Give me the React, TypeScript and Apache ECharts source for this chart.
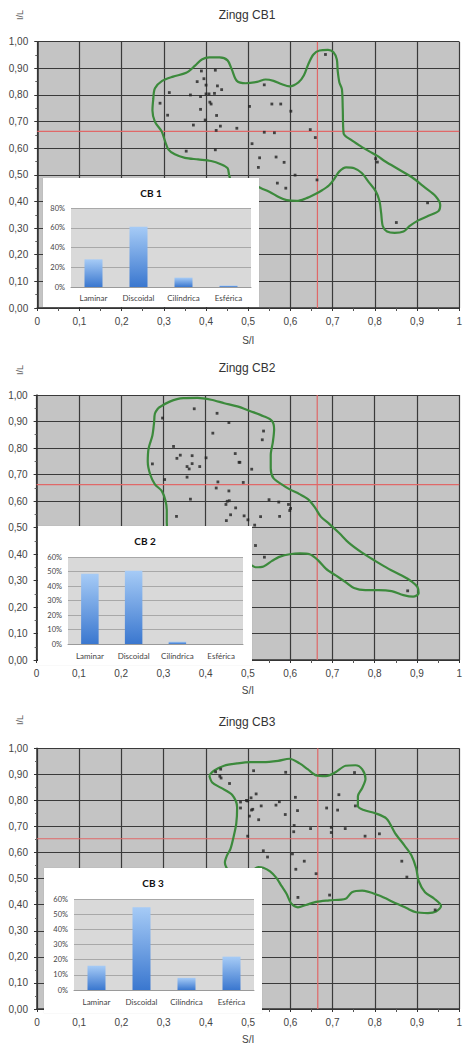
import React, { useEffect, useRef } from "react";
import * as echarts from "echarts";

// ---------- data ----------
const shapeCategories = ["Laminar", "Discoidal", "Cilíndrica", "Esférica"];
const cb1Shares = [0.28, 0.61, 0.095, 0.015];
const cb2Shares = [0.485, 0.505, 0.016, 0];
const cb3Shares = [0.16, 0.545, 0.08, 0.22];

const chartTitles = ["Zingg CB1", "Zingg CB2", "Zingg CB3"];
const insetTitles = ["CB 1", "CB 2", "CB 3"];

// reference lines [x (S/I), y (I/L)]
const cb1Ref = [0.664, 0.663];
const cb2Ref = [0.664, 0.662];
const cb3Ref = [0.665, 0.653];

const cb1Points = [
  [0.291, 0.769], [0.313, 0.809], [0.309, 0.724], [0.363, 0.8], [0.379, 0.85], [0.389, 0.89], [0.395, 0.861],
  [0.4, 0.837], [0.387, 0.794], [0.4, 0.804], [0.407, 0.804], [0.409, 0.773], [0.412, 0.766], [0.387, 0.746],
  [0.398, 0.706], [0.37, 0.687], [0.422, 0.893], [0.427, 0.834], [0.437, 0.82], [0.42, 0.806], [0.425, 0.723],
  [0.434, 0.683], [0.424, 0.667], [0.422, 0.594], [0.353, 0.589], [0.473, 0.675], [0.503, 0.757], [0.509, 0.617],
  [0.538, 0.838], [0.556, 0.766], [0.577, 0.766], [0.601, 0.739], [0.538, 0.66], [0.562, 0.658], [0.527, 0.564],
  [0.524, 0.528], [0.566, 0.567], [0.585, 0.547], [0.611, 0.499], [0.569, 0.469], [0.589, 0.45], [0.647, 0.67],
  [0.659, 0.64], [0.663, 0.481], [0.683, 0.952], [0.802, 0.561], [0.806, 0.548], [0.851, 0.321], [0.925, 0.395],
];

const cb2Points = [
  [0.373, 0.948], [0.427, 0.931], [0.455, 0.896], [0.298, 0.913], [0.417, 0.856], [0.537, 0.864], [0.534, 0.831],
  [0.324, 0.806], [0.34, 0.773], [0.332, 0.761], [0.368, 0.771], [0.368, 0.741], [0.356, 0.73], [0.361, 0.721],
  [0.386, 0.73], [0.401, 0.763], [0.274, 0.74], [0.356, 0.69], [0.303, 0.681], [0.47, 0.779], [0.479, 0.746],
  [0.481, 0.746], [0.509, 0.72], [0.489, 0.67], [0.429, 0.672], [0.425, 0.649], [0.455, 0.638], [0.456, 0.601],
  [0.451, 0.599], [0.448, 0.587], [0.471, 0.574], [0.364, 0.607], [0.331, 0.542], [0.459, 0.548], [0.449, 0.526],
  [0.491, 0.544], [0.5, 0.529], [0.516, 0.509], [0.53, 0.541], [0.55, 0.605], [0.573, 0.596], [0.575, 0.542],
  [0.596, 0.587], [0.601, 0.572], [0.599, 0.564], [0.518, 0.432], [0.539, 0.388], [0.878, 0.261],
];

const cb3Points = [
  [0.423, 0.91], [0.435, 0.92], [0.433, 0.893], [0.436, 0.886], [0.456, 0.865], [0.513, 0.914], [0.589, 0.908],
  [0.752, 0.907], [0.482, 0.794], [0.496, 0.8], [0.499, 0.798], [0.507, 0.81], [0.519, 0.825], [0.482, 0.771],
  [0.508, 0.763], [0.511, 0.766], [0.531, 0.779], [0.503, 0.74], [0.525, 0.726], [0.566, 0.782], [0.574, 0.795],
  [0.588, 0.746], [0.612, 0.812], [0.617, 0.761], [0.609, 0.704], [0.608, 0.68], [0.648, 0.692], [0.686, 0.771],
  [0.715, 0.822], [0.712, 0.763], [0.697, 0.697], [0.697, 0.677], [0.73, 0.692], [0.754, 0.779], [0.777, 0.663],
  [0.811, 0.672], [0.499, 0.663], [0.536, 0.607], [0.546, 0.583], [0.605, 0.595], [0.633, 0.567], [0.613, 0.536],
  [0.661, 0.519], [0.618, 0.428], [0.693, 0.437], [0.864, 0.567], [0.876, 0.506], [0.943, 0.38],
];

const cb1Contour = [
  [0.275, 0.785], [0.279, 0.825], [0.296, 0.853], [0.322, 0.869], [0.353, 0.883], [0.374, 0.91], [0.39, 0.933],
  [0.408, 0.941], [0.432, 0.941], [0.451, 0.93], [0.461, 0.896], [0.473, 0.853], [0.494, 0.844], [0.521, 0.849],
  [0.541, 0.858], [0.56, 0.853], [0.58, 0.84], [0.598, 0.832], [0.619, 0.847], [0.632, 0.874], [0.642, 0.914],
  [0.654, 0.951], [0.669, 0.967], [0.689, 0.969], [0.702, 0.96], [0.71, 0.933], [0.712, 0.89], [0.716, 0.847],
  [0.722, 0.822], [0.724, 0.748], [0.726, 0.656], [0.743, 0.632], [0.767, 0.607], [0.786, 0.589], [0.806, 0.571],
  [0.825, 0.55], [0.856, 0.521], [0.888, 0.491], [0.919, 0.452], [0.944, 0.42], [0.955, 0.387], [0.951, 0.364],
  [0.927, 0.346], [0.903, 0.329], [0.882, 0.307], [0.868, 0.287], [0.847, 0.282], [0.829, 0.287], [0.819, 0.307],
  [0.815, 0.356], [0.811, 0.402], [0.802, 0.439], [0.786, 0.472], [0.769, 0.507], [0.751, 0.525], [0.732, 0.528],
  [0.716, 0.513], [0.704, 0.485], [0.691, 0.46], [0.675, 0.442], [0.658, 0.427], [0.636, 0.411], [0.615, 0.402],
  [0.591, 0.405], [0.572, 0.417], [0.551, 0.436], [0.533, 0.448], [0.513, 0.46], [0.49, 0.454], [0.463, 0.466],
  [0.455, 0.497], [0.451, 0.525], [0.435, 0.54], [0.412, 0.552], [0.381, 0.558], [0.35, 0.564], [0.326, 0.577],
  [0.311, 0.595], [0.303, 0.626], [0.295, 0.663], [0.279, 0.699], [0.273, 0.742], [0.275, 0.785],
];

const cb2Contour = [
  [0.288, 0.951], [0.315, 0.975], [0.347, 0.988], [0.381, 0.989], [0.413, 0.982], [0.444, 0.969], [0.475, 0.957],
  [0.506, 0.939], [0.537, 0.92], [0.557, 0.902], [0.562, 0.871], [0.559, 0.822], [0.554, 0.773], [0.554, 0.724],
  [0.56, 0.687], [0.58, 0.663], [0.599, 0.644], [0.622, 0.626], [0.642, 0.607], [0.658, 0.577], [0.673, 0.54],
  [0.693, 0.513], [0.716, 0.479], [0.739, 0.442], [0.77, 0.405], [0.801, 0.374], [0.833, 0.344], [0.864, 0.319],
  [0.887, 0.297], [0.901, 0.276], [0.904, 0.252], [0.891, 0.239], [0.868, 0.245], [0.84, 0.26], [0.809, 0.264],
  [0.778, 0.264], [0.751, 0.272], [0.731, 0.294], [0.708, 0.319], [0.685, 0.344], [0.665, 0.378], [0.646, 0.399],
  [0.623, 0.402], [0.599, 0.399], [0.576, 0.39], [0.557, 0.374], [0.537, 0.353], [0.518, 0.35], [0.502, 0.362],
  [0.459, 0.344], [0.381, 0.368], [0.32, 0.442], [0.308, 0.519], [0.308, 0.564], [0.305, 0.601], [0.296, 0.638],
  [0.28, 0.663], [0.269, 0.699], [0.263, 0.748], [0.265, 0.798], [0.274, 0.847], [0.278, 0.896], [0.28, 0.93],
  [0.288, 0.951],
];

const cb3Contour = [
  [0.408, 0.896], [0.419, 0.914], [0.443, 0.933], [0.474, 0.942], [0.505, 0.947], [0.536, 0.947], [0.571, 0.952],
  [0.598, 0.96], [0.622, 0.942], [0.641, 0.92], [0.661, 0.896], [0.684, 0.893], [0.707, 0.908], [0.731, 0.933],
  [0.754, 0.935], [0.77, 0.92], [0.778, 0.883], [0.77, 0.847], [0.76, 0.816], [0.76, 0.779], [0.774, 0.763],
  [0.801, 0.751], [0.828, 0.73], [0.848, 0.675], [0.871, 0.626], [0.887, 0.589], [0.898, 0.54], [0.904, 0.491],
  [0.919, 0.448], [0.941, 0.423], [0.957, 0.395], [0.945, 0.374], [0.926, 0.368], [0.898, 0.371], [0.875, 0.387],
  [0.848, 0.407], [0.809, 0.436], [0.77, 0.454], [0.746, 0.448], [0.731, 0.423], [0.692, 0.417], [0.661, 0.411],
  [0.637, 0.399], [0.618, 0.39], [0.602, 0.405], [0.591, 0.442], [0.579, 0.472], [0.567, 0.503], [0.552, 0.528],
  [0.536, 0.542], [0.524, 0.544], [0.505, 0.528], [0.458, 0.528], [0.445, 0.561], [0.45, 0.589], [0.458, 0.613],
  [0.466, 0.663], [0.472, 0.712], [0.474, 0.773], [0.462, 0.822], [0.435, 0.849], [0.415, 0.869], [0.408, 0.896],
];

// ---------- layout ----------
const MAIN = [
  { top: 0, height: 350, gLeft: 37.25, gTop: 41.7, gBottom: 36.7, nameGap: 27, titleY: 15, ilY: 15 },
  { top: 350, height: 350, gLeft: 36.6, gTop: 45, gBottom: 33.3, nameGap: 25, titleY: 18, ilY: 20 },
  { top: 700, height: 349, gLeft: 37, gTop: 48.3, gBottom: 29, nameGap: 25, titleY: 22, ilY: 20 },
];
const INSET = [
  { left: 42.7, top: 178.3, width: 216, height: 129, gl: 28, gt: 30, gr: 8, gb: 20, lm: 7, max: 0.8, step: 0.2 },
  { left: 38, top: 525.7, width: 214, height: 139, gl: 30, gt: 31, gr: 9, gb: 21, lm: 8, max: 0.6, step: 0.1 },
  { left: 44, top: 867.7, width: 218, height: 145, gl: 30, gt: 31, gr: 8, gb: 23, lm: 8, max: 0.6, step: 0.1 },
];

const MAIN_FONT = "'Liberation Sans', Arial, sans-serif";
const INSET_FONT = "Lato, 'Open Sans', sans-serif";

function mainOption(i: number, points: number[][], contour: number[][], ref: number[]) {
  const L = MAIN[i];
  return {
    animation: false,
    textStyle: { fontFamily: MAIN_FONT },
    grid: {
      left: L.gLeft,
      top: L.gTop,
      right: 0,
      bottom: L.gBottom,
      show: true,
      backgroundColor: "#c4c4c4",
      borderWidth: 0,
    },
    xAxis: {
      type: "value",
      min: 0,
      max: 1,
      interval: 0.1,
      name: "S/I",
      nameLocation: "middle",
      nameGap: L.nameGap,
      nameTextStyle: { fontSize: 10, color: "#444", fontFamily: MAIN_FONT },
      axisLine: { show: true, onZero: false, lineStyle: { color: "#333", width: 1.5 } },
      axisTick: { show: true, length: 3, lineStyle: { color: "#333" } },
      minorTick: { show: true, splitNumber: 2, length: 3, lineStyle: { color: "#555" } },
      axisLabel: {
        fontSize: 10,
        color: "#444",
        margin: 8,
        fontFamily: MAIN_FONT,
        formatter: (v: number) => (v === 0 ? "0" : v === 1 ? "1" : v.toFixed(1).replace(".", ",")),
      },
      splitLine: { show: true, lineStyle: { color: "#3a3a3a", width: 1.2 } },
    },
    yAxis: {
      type: "value",
      min: 0,
      max: 1,
      interval: 0.1,
      axisLine: { show: true, onZero: false, lineStyle: { color: "#333", width: 1.5 } },
      axisTick: { show: true, length: 3, lineStyle: { color: "#333" } },
      minorTick: { show: true, splitNumber: 2, length: 2, lineStyle: { color: "#666" } },
      axisLabel: {
        fontSize: 10,
        color: "#444",
        margin: 9,
        fontFamily: MAIN_FONT,
        formatter: (v: number) => v.toFixed(2).replace(".", ","),
      },
      splitLine: { show: true, lineStyle: { color: "#3a3a3a", width: 1.2 } },
    },
    graphic: [
      {
        type: "text",
        x: 247,
        y: L.titleY,
        style: {
          text: chartTitles[i],
          fill: "#333",
          font: `12px ${MAIN_FONT}`,
          textAlign: "center",
          textVerticalAlign: "middle",
        },
      },
      {
        type: "text",
        x: 20,
        y: L.ilY,
        rotation: Math.PI / 2,
        style: {
          text: "I/L",
          fill: "#555",
          font: `9px ${MAIN_FONT}`,
          textAlign: "center",
          textVerticalAlign: "middle",
        },
      },
    ],
    series: [
      {
        type: "line",
        data: [[ref[0], 0], [ref[0], 1]],
        symbol: "none",
        lineStyle: { color: "#e06868", width: 1.2 },
        z: 2,
      },
      {
        type: "line",
        data: [[0, ref[1]], [1, ref[1]]],
        symbol: "none",
        lineStyle: { color: "#e06868", width: 1.2 },
        z: 2,
      },
      {
        type: "line",
        data: contour,
        smooth: 0.3,
        symbol: "none",
        lineStyle: { color: "#3c8a3c", width: 2.2 },
        z: 3,
      },
      {
        type: "scatter",
        data: points,
        symbol: "rect",
        symbolSize: 2.8,
        itemStyle: { color: "#222" },
        z: 4,
      },
    ],
  };
}

function insetOption(i: number, shares: number[]) {
  const L = INSET[i];
  return {
    animation: false,
    textStyle: { fontFamily: INSET_FONT },
    grid: {
      left: L.gl,
      top: L.gt,
      right: L.gr,
      bottom: L.gb,
      show: true,
      backgroundColor: "#d9d9d9",
      borderWidth: 0,
    },
    graphic: [
      {
        type: "text",
        x: L.width / 2,
        y: 15,
        style: {
          text: insetTitles[i],
          fill: "#111",
          font: `bold 10px ${INSET_FONT}`,
          textAlign: "center",
          textVerticalAlign: "middle",
        },
      },
    ],
    xAxis: {
      type: "category",
      data: shapeCategories,
      axisLine: { show: true, lineStyle: { color: "#9a9a9a" } },
      axisTick: { show: false },
      axisLabel: { fontSize: 8, color: "#444", margin: L.lm, fontFamily: INSET_FONT, interval: 0 },
    },
    yAxis: {
      type: "value",
      min: 0,
      max: L.max,
      interval: L.step,
      axisLine: { show: false },
      axisTick: { show: false },
      axisLabel: {
        fontSize: 7.5,
        color: "#444",
        margin: 6,
        fontFamily: INSET_FONT,
        formatter: (v: number) => Math.round(v * 100) + "%",
      },
      splitLine: { show: true, lineStyle: { color: "#a8a8a8", width: 1 } },
    },
    series: [
      {
        type: "bar",
        data: shares,
        barWidth: "40%",
        itemStyle: {
          color: new echarts.graphic.LinearGradient(0, 0, 0, 1, [
            { offset: 0, color: "#a6cbf6" },
            { offset: 1, color: "#3a77cf" },
          ]),
        },
      },
    ],
  };
}

export default function App() {
  const m1 = useRef<HTMLDivElement>(null);
  const m2 = useRef<HTMLDivElement>(null);
  const m3 = useRef<HTMLDivElement>(null);
  const i1 = useRef<HTMLDivElement>(null);
  const i2 = useRef<HTMLDivElement>(null);
  const i3 = useRef<HTMLDivElement>(null);

  useEffect(() => {
    const charts: echarts.ECharts[] = [];
    const mains = [m1, m2, m3];
    const insets = [i1, i2, i3];
    const pts = [cb1Points, cb2Points, cb3Points];
    const cts = [cb1Contour, cb2Contour, cb3Contour];
    const refs = [cb1Ref, cb2Ref, cb3Ref];
    const shares = [cb1Shares, cb2Shares, cb3Shares];
    for (let k = 0; k < 3; k++) {
      const c = echarts.init(mains[k].current!, undefined, { renderer: "svg" });
      c.setOption(mainOption(k, pts[k], cts[k], refs[k]));
      charts.push(c);
    }
    for (let k = 0; k < 3; k++) {
      const c = echarts.init(insets[k].current!, undefined, { renderer: "svg" });
      c.setOption(insetOption(k, shares[k]));
      charts.push(c);
    }
    return () => charts.forEach((c) => c.dispose());
  }, []);

  const mainRefs = [m1, m2, m3];
  const insetRefs = [i1, i2, i3];

  return (
    <div
      style={{
        position: "absolute",
        left: 0,
        top: 0,
        width: 465,
        height: 1049,
        background: "#fff",
        overflow: "hidden",
      }}
    >
      {MAIN.map((L, k) => (
        <div
          key={"m" + k}
          ref={mainRefs[k]}
          style={{ position: "absolute", left: 0, top: L.top, width: 465, height: L.height }}
        />
      ))}
      {INSET.map((L, k) => (
        <div
          key={"i" + k}
          ref={insetRefs[k]}
          style={{
            position: "absolute",
            left: L.left,
            top: L.top,
            width: L.width,
            height: L.height,
            background: "#fff",
            boxShadow: "0 0 1px rgba(0,0,0,0.15)",
          }}
        />
      ))}
    </div>
  );
}
